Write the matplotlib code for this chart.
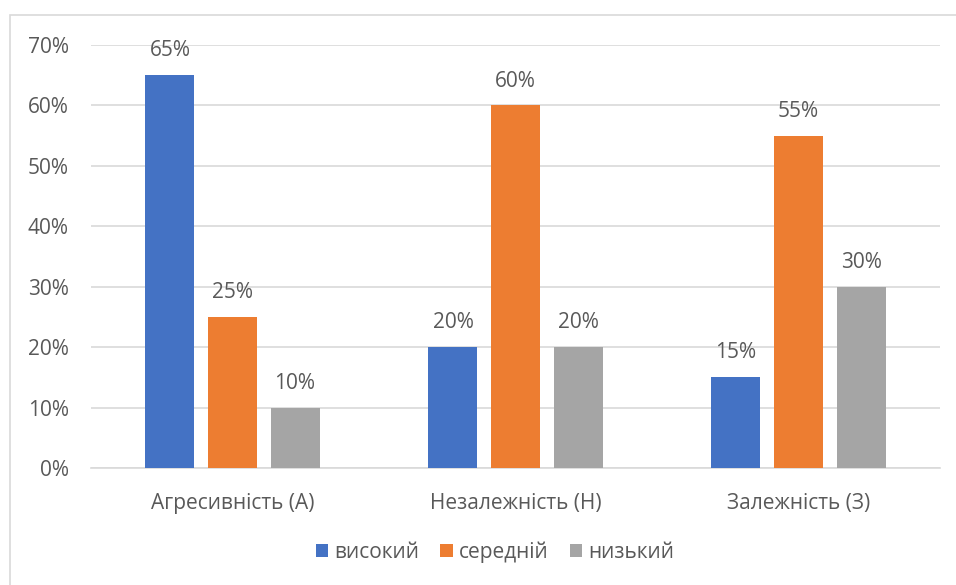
import numpy as np
import matplotlib.pyplot as plt
from matplotlib.patches import Rectangle

categories = ['Агресивність (А)', 'Незалежність (Н)', 'Залежність (З)']
series = ['високий', 'середній', 'низький']
high = [65, 20, 15]
mid = [25, 60, 55]
low = [10, 20, 30]
colors = ['#4472C4', '#ED7D31', '#A5A5A5']

plt.rcParams['font.family'] = ['Open Sans', 'DejaVu Sans']
txt = '#595959'
fs = 15

fig = plt.figure(figsize=(9.56, 5.85), dpi=100)
ax = fig.add_axes([91/956, 117/585, 849/956, 423/585])

# рамка навколо діаграми
fig.patches.append(Rectangle((10/956, -0.05), 1.0, 1 - 15/585 + 0.05,
                             transform=fig.transFigure, fill=False,
                             edgecolor='#D9D9D9', linewidth=1.2))

x = np.arange(len(categories))
w = 0.173
step = 0.221
for i, (vals, name) in enumerate(zip([high, mid, low], series)):
    bars = ax.bar(x + (i - 1) * step, vals, w, color=colors[i], label=name, zorder=3)
    for b, v in zip(bars, vals):
        ax.text(b.get_x() + b.get_width() / 2, v + 2.3, f'{v}%', ha='center',
                va='bottom', fontsize=fs, color=txt)

ax.set_xlim(-0.5, 2.5)
ax.set_ylim(0, 70)
ax.set_yticks(range(0, 71, 10))
ax.set_yticklabels([f'{t}%' for t in range(0, 71, 10)])
ax.set_xticks(x)
ax.set_xticklabels(categories)
ax.grid(axis='y', color='#D9D9D9', linewidth=1.2, zorder=0)
for s in ['top', 'right', 'left']:
    ax.spines[s].set_visible(False)
ax.spines['bottom'].set_color('#D9D9D9')
ax.spines['bottom'].set_linewidth(1.2)
ax.tick_params(axis='both', length=0, labelsize=fs, colors=txt)
ax.tick_params(axis='y', pad=16)
ax.tick_params(axis='x', pad=18)

leg = fig.legend(loc='center', bbox_to_anchor=(495/956, 1 - 552/585), ncol=3,
                 frameon=False, fontsize=fs, handlelength=0.6, handleheight=0.6,
                 handletextpad=0.3, columnspacing=1.0)
for t in leg.get_texts():
    t.set_color(txt)

fig.savefig('out.png', dpi=100)
